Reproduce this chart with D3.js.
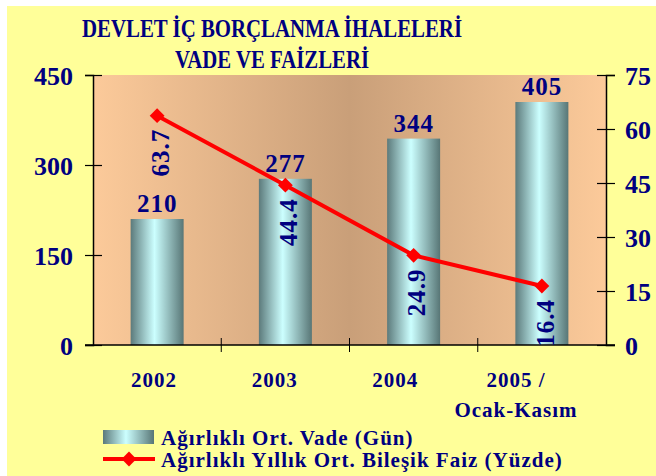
<!DOCTYPE html>
<html><head><meta charset="utf-8">
<script src="https://cdn.jsdelivr.net/npm/d3@7"></script>
<style>html,body{margin:0;padding:0;background:#fff;}svg{display:block;}</style>
</head><body>
<svg id="c" width="656" height="476"></svg>
<script>
const categories = ["2002", "2003", "2004", "2005 /|Ocak-Kasım"];
const vade = [210, 277, 344, 405];
const faiz = [63.7, 44.4, 24.9, 16.4];
const leftTicks = [0, 150, 300, 450];
const rightTicks = [0, 15, 30, 45, 60, 75];
const titleLines = ["DEVLET İÇ BORÇLANMA İHALELERİ", "VADE VE FAİZLERİ"];
const legendLabels = ["Ağırlıklı Ort. Vade (Gün)", "Ağırlıklı Yıllık Ort. Bileşik Faiz (Yüzde)"];

const navy = "#000080";
const font = "'Liberation Serif','Times New Roman',serif";
const svg = d3.select("#c");
const defs = svg.append("defs");

const bg = defs.append("linearGradient").attr("id","bgGrad").attr("x1","0").attr("x2","1").attr("y1","0").attr("y2","0");
bg.append("stop").attr("offset","0").attr("stop-color","#FCCA9A");
bg.append("stop").attr("offset","0.5").attr("stop-color","#C99F79");
bg.append("stop").attr("offset","1").attr("stop-color","#FCCA9A");

const bar = defs.append("linearGradient").attr("id","barGrad").attr("x1","0").attr("x2","1").attr("y1","0").attr("y2","0");
bar.append("stop").attr("offset","0").attr("stop-color","#5C7A7B");
bar.append("stop").attr("offset","0.45").attr("stop-color","#CCFFFF");
bar.append("stop").attr("offset","1").attr("stop-color","#587676");

svg.append("rect").attr("x",7).attr("y",6).attr("width",649).attr("height",470).attr("fill","#FFFF99");

const m = {l:93, r:606, t:75, b:345};
const x = d3.scaleBand().domain(categories).range([m.l, m.r]).paddingInner(0).paddingOuter(0);
const xLab = d3.scalePoint().domain(categories).range([154, 516]);
const yL = d3.scaleLinear().domain([0,450]).range([m.b, m.t]);
const yR = d3.scaleLinear().domain([0,75]).range([m.b, m.t]);

svg.append("rect").attr("x",m.l).attr("y",m.t).attr("width",m.r-m.l).attr("height",m.b-m.t).attr("fill","url(#bgGrad)");

// title
const titleWidths = [380, 194];
svg.append("g").selectAll("text").data(titleLines).join("text")
  .attr("x", 272).attr("y",(d,i)=>37+i*31).attr("text-anchor","middle")
  .attr("font-family",font).attr("font-weight","bold").attr("font-size",25)
  .attr("textLength",(d,i)=>titleWidths[i]).attr("lengthAdjust","spacingAndGlyphs")
  .attr("fill",navy).text(d=>d);

// bars
const bw = 53;
svg.append("g").selectAll("rect").data(vade).join("rect")
  .attr("x",(d,i)=>x(categories[i])+x.bandwidth()/2-bw/2)
  .attr("y",d=>yL(d)).attr("width",bw).attr("height",d=>yL(0)-yL(d))
  .attr("fill","url(#barGrad)");

// bar labels
svg.append("g").selectAll("text").data(vade).join("text")
  .attr("x",(d,i)=>x(categories[i])+x.bandwidth()/2).attr("y",d=>yL(d)-7)
  .attr("text-anchor","middle").attr("font-family",font).attr("font-weight","bold")
  .attr("font-size",25).attr("letter-spacing",1).attr("fill",navy).text(d=>d);

// axes
const axL = d3.axisLeft(yL).tickValues(leftTicks).tickSize(8).tickPadding(12);
const gL = svg.append("g").attr("transform",`translate(${m.l},0)`).call(axL);
gL.selectAll(".tick line").attr("x2",-8).attr("x1",9);
const axR = d3.axisRight(yR).tickValues(rightTicks).tickSize(9).tickPadding(10);
const gR = svg.append("g").attr("transform",`translate(${m.r},0)`).call(axR);
gR.selectAll(".tick line").attr("x1",-9);
[gL,gR].forEach(g=>{
  g.select(".domain").attr("stroke","#000").attr("stroke-width",1.5);
  g.selectAll(".tick line").attr("stroke","#000").attr("stroke-width",1.2);
  g.selectAll(".tick text").attr("font-family",font).attr("font-weight","bold")
    .attr("font-size",26).attr("fill",navy).attr("dy","0.35em");
});

// x axis
const gX = svg.append("g").attr("transform",`translate(0,${m.b})`);
gX.append("line").attr("x1",m.l-8).attr("x2",m.r+9).attr("stroke","#000").attr("stroke-width",1.5);
gX.selectAll("line.t").data(categories.slice(1)).join("line").attr("class","t")
  .attr("x1",d=>x(d)).attr("x2",d=>x(d)).attr("y1",-7).attr("y2",7).attr("stroke","#000").attr("stroke-width",1);
const xl = gX.selectAll("text").data(categories).join("text")
  .attr("x",d=>xLab(d)).attr("y",42).attr("text-anchor","middle")
  .attr("font-family",font).attr("font-weight","bold").attr("font-size",21)
  .attr("letter-spacing",1).attr("fill",navy);
xl.each(function(d){
  const parts = d.split("|");
  d3.select(this).selectAll("tspan").data(parts).join("tspan")
    .attr("x",xLab(d)).attr("dy",(p,i)=>i? "1.45em":0).text(p=>p);
});

// line
const line = d3.line().x((d,i)=>x(categories[i])+x.bandwidth()/2).y(d=>yR(d));
svg.append("path").datum(faiz).attr("d",line).attr("fill","none").attr("stroke","#FF0000").attr("stroke-width",4);
svg.append("g").selectAll("path").data(faiz).join("path")
  .attr("d",d3.symbol(d3.symbolSquare,110)())
  .attr("transform",(d,i)=>`translate(${x(categories[i])+x.bandwidth()/2},${yR(d)}) rotate(45)`)
  .attr("fill","#FF0000");

// line labels
svg.append("g").selectAll("text").data(faiz).join("text")
  .attr("transform",(d,i)=>`translate(${x(categories[i])+x.bandwidth()/2+3},${yR(d)+37}) rotate(-90)`)
  .attr("text-anchor","middle").attr("dy","0.35em")
  .attr("font-family",font).attr("font-weight","bold").attr("font-size",25)
  .attr("letter-spacing",1).attr("fill",navy).text(d=>d.toFixed(1));

// legend
const lg = svg.append("g");
lg.append("rect").attr("x",103).attr("y",430).attr("width",51).attr("height",14).attr("fill","url(#barGrad)");
lg.append("line").attr("x1",103).attr("x2",155).attr("y1",459).attr("y2",459).attr("stroke","#FF0000").attr("stroke-width",4);
lg.append("path").attr("d",d3.symbol(d3.symbolSquare,110)()).attr("transform","translate(129,459) rotate(45)").attr("fill","#FF0000");
lg.selectAll("text").data(legendLabels).join("text")
  .attr("x",161).attr("y",(d,i)=>445+i*22)
  .attr("font-family",font).attr("font-weight","bold").attr("font-size",21)
  .attr("letter-spacing",1).attr("fill",navy).text(d=>d);
</script>
</body></html>
